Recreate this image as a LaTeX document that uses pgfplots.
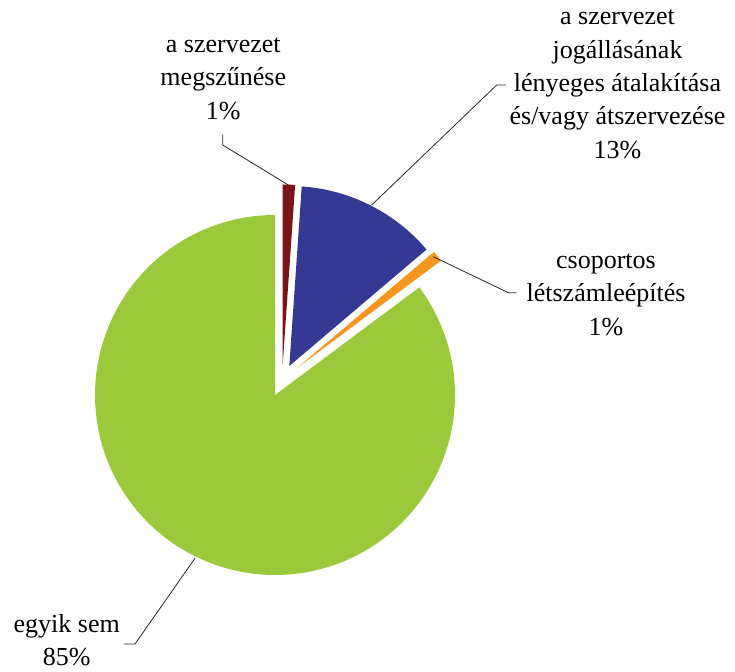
\documentclass[border=0pt]{standalone}
\usepackage{pgfplots}
\pgfplotsset{compat=1.18}
\usepackage{fontspec}
\setmainfont{Liberation Serif}
\definecolor{cRed}{RGB}{123,20,24}
\definecolor{cBlue}{RGB}{52,57,147}
\definecolor{cOrange}{RGB}{246,150,30}
\definecolor{cGreen}{RGB}{154,201,60}
% data (percent)
\def\vRed{1.1}
\def\vBlue{12.7}
\def\vOrange{1.0}
\def\vGreen{85.2}
\pgfmathsetmacro\aA{90}
\pgfmathsetmacro\aB{\aA-3.6*\vRed}
\pgfmathsetmacro\aC{\aB-3.6*\vBlue}
\pgfmathsetmacro\aD{\aC-3.6*\vOrange}
\pgfmathsetmacro\aE{\aD-3.6*\vGreen}
\begin{document}
\begin{tikzpicture}[font=\rmfamily\fontsize{26bp}{33bp}\selectfont]
\begin{axis}[
  width=735bp, height=672bp, scale only axis,
  xmin=0, xmax=735, ymin=0, ymax=672,
  hide axis, clip=false,
]
\addplot[draw=none] coordinates {(0,0) (735,672)};
% slices
\addplot[fill=cGreen, draw=none, domain=\aE:\aD, samples=200]
  ({275+180*cos(x)},{277+180*sin(x)}) -- (axis cs:275,277) -- cycle;
\addplot[fill=cRed, draw=none, domain=\aB:\aA, samples=10]
  ({282.7+180*cos(x)},{307.5+180*sin(x)}) -- (axis cs:282.7,307.5) -- cycle;
\addplot[fill=cBlue, draw=none, domain=\aC:\aB, samples=60]
  ({289.3+180*cos(x)},{306+180*sin(x)}) -- (axis cs:289.3,306) -- cycle;
\addplot[fill=cOrange, draw=none, domain=\aD:\aC, samples=10]
  ({296.7+180*cos(x)},{303.7+180*sin(x)}) -- (axis cs:296.7,303.7) -- cycle;
% leader lines
\addplot[black!85, line width=0.8bp] coordinates {(222.7,537) (222.7,527) (288.3,487)};
\addplot[black!85, line width=0.8bp] coordinates {(371.7,467) (496.7,587) (506,587)};
\addplot[black!85, line width=0.8bp] coordinates {(433.3,415.3) (508.3,379.3) (516.7,379.3)};
\addplot[black!85, line width=0.8bp] coordinates {(195,113.7) (135,28) (124,28)};
% labels
\node[anchor=base, inner sep=0] at (axis cs:223.3,619.5) {a szervezet};
\node[anchor=base, inner sep=0] at (axis cs:223.3,586) {megszűnése};
\node[anchor=base, inner sep=0] at (axis cs:223.3,552.5) {1\%};
\node[anchor=base, inner sep=0] at (axis cs:617.5,647) {a szervezet};
\node[anchor=base, inner sep=0] at (axis cs:617.5,613.7) {jogállásának};
\node[anchor=base, inner sep=0] at (axis cs:617.5,580.3) {lényeges átalakítása};
\node[anchor=base, inner sep=0] at (axis cs:617.5,547) {és/vagy átszervezése};
\node[anchor=base, inner sep=0] at (axis cs:617.5,513.7) {13\%};
\node[anchor=base, inner sep=0] at (axis cs:606,403.5) {csoportos};
\node[anchor=base, inner sep=0] at (axis cs:606,370) {létszámleépítés};
\node[anchor=base, inner sep=0] at (axis cs:606,336.5) {1\%};
\node[anchor=base, inner sep=0] at (axis cs:66.7,39) {egyik sem};
\node[anchor=base, inner sep=0] at (axis cs:66.7,7) {85\%};
\end{axis}
\end{tikzpicture}
\end{document}
